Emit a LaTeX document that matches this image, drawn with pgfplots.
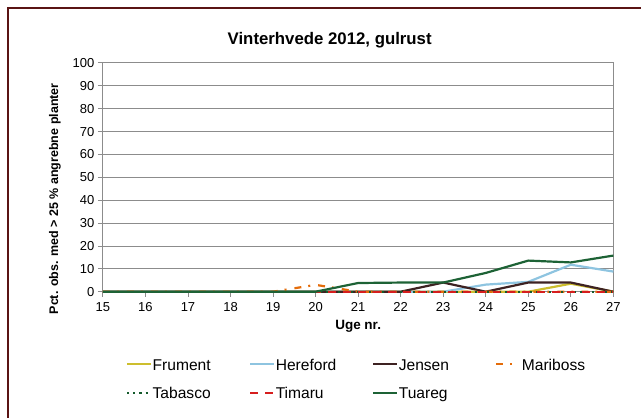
\documentclass[border=0pt]{standalone}
\usepackage{fontspec}
\setmainfont{Liberation Sans}
\usepackage{pgfplots}
\pgfplotsset{compat=1.18}
\definecolor{cFru}{HTML}{CDBE2E}
\definecolor{cHer}{HTML}{8EC4E0}
\definecolor{cJen}{HTML}{3D2222}
\definecolor{cMar}{HTML}{E46C0A}
\definecolor{cTab}{HTML}{145A2C}
\definecolor{cTim}{HTML}{D61E1E}
\definecolor{cTua}{HTML}{1D6235}
\definecolor{cFrame}{HTML}{5A1414}
\definecolor{cGrid}{HTML}{8C8C8C}
\begin{document}
\begin{tikzpicture}[x=1pt,y=1pt]
\path (0,0) rectangle (642,418);
\draw[cFrame,line width=1.3pt] (8,0) -- (8,410) -- (642,410);
\node[font=\bfseries\fontsize{16.8}{19}\selectfont] at (330,378) {Vinterhvede 2012, gulrust};
\begin{axis}[at={(103pt,126pt)},anchor=south west,scale only axis,
  width=511pt,height=229pt,
  xmin=15,xmax=27,ymin=0,ymax=100,
  xtick={15,...,27},ytick={0,10,...,100},
  ymajorgrids,major grid style={cGrid,line width=0.9pt},
  axis line style={draw=cGrid,line width=0.9pt},
  tick style={draw=cGrid,line width=0.9pt},
  tick align=outside,major tick length=5pt,tick pos=left,
  /pgf/number format/assume math mode=true,
  tick label style={font=\fontsize{13}{15}\selectfont,color=black},
  xticklabel style={yshift=-2pt},
  xlabel={Uge nr.},
  xlabel style={font=\bfseries\fontsize{13.5}{15}\selectfont,at={(axis description cs:0.5,-0.152)},anchor=center},
  ylabel={Pct. obs. med > 25 \% angrebne planter},
  ylabel style={font=\bfseries\fontsize{12.5}{14}\selectfont,at={(axis description cs:-0.094,0.406)},anchor=center},
  legend columns=4,
  legend style={at={(0.039,-0.281)},anchor=north west,draw=none,fill=none,
    font=\fontsize{15.6}{18}\selectfont,
    nodes={inner xsep=0.5pt,inner ysep=1pt,text width=96pt,align=left,
      text height=11pt,text depth=3pt,anchor=base west},
    /tikz/every even column/.append style={column sep=0pt},
    row sep=12.5pt},
  legend image code/.code={\draw[#1] (0pt,6pt) -- (24pt,6pt);},
  clip=false]
\addplot[cFru,line width=2.2pt] coordinates {(15,0)(16,0)(17,0)(18,0)(19,0)(20,0)(21,0)(22,0)(23,0)(24,0)(25,0)(26,3.5)(27,0)};
\addlegendentry{Frument}
\addplot[cHer,line width=2.2pt] coordinates {(15,0)(16,0)(17,0)(18,0)(19,0)(20,0)(21,0)(22,0)(23,0)(24,3.1)(25,4.3)(26,11.8)(27,8.8)};
\addlegendentry{Hereford}
\addplot[cJen,line width=2.2pt] coordinates {(15,0)(16,0)(17,0)(18,0)(19,0)(20,0)(21,0)(22,0)(23,4)(24,0)(25,4)(26,4)(27,0)};
\addlegendentry{Jensen}
\addplot[cMar,line width=2.2pt,dash pattern=on 7pt off 7pt on 2pt off 8pt] coordinates {(15,0)(16,0)(17,0)(18,0)(19,0)(20,3)(21,0)(22,0)(23,0)(24,0)(25,0)(26,0)(27,0)};
\addlegendentry{Mariboss}
\addplot[cTab,line width=2.2pt,dash pattern=on 2.2pt off 4pt] coordinates {(15,0)(16,0)(17,0)(18,0)(19,0)(20,0)(21,0)(22,0)(23,0)(24,0)(25,0)(26,0)(27,0)};
\addlegendentry{Tabasco}
\addplot[cTim,line width=2.2pt,dash pattern=on 8pt off 7pt] coordinates {(15,0)(16,0)(17,0)(18,0)(19,0)(20,0)(21,0)(22,0)(23,0)(24,0)(25,0)(26,0)(27,0)};
\addlegendentry{Timaru}
\addplot[cTua,line width=2.2pt] coordinates {(15,0)(16,0)(17,0)(18,0)(19,0)(20,0)(21,3.8)(22,4)(23,4)(24,8.2)(25,13.6)(26,12.8)(27,15.8)};
\addlegendentry{Tuareg}
\end{axis}
\end{tikzpicture}
\end{document}
